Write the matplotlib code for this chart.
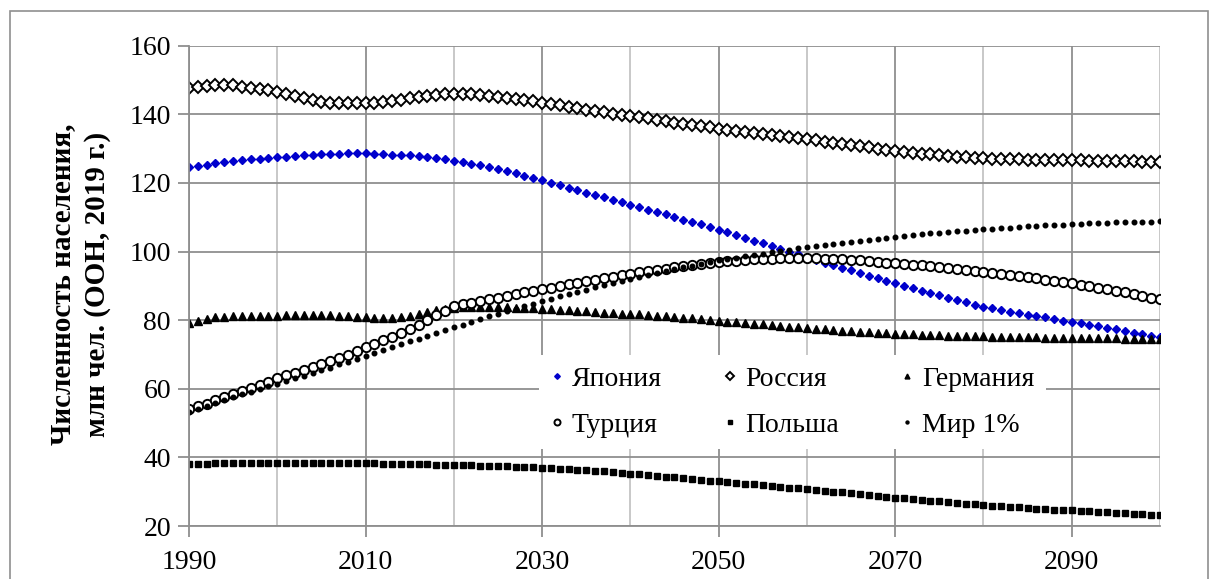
"""Population projections (UN WPP 2019): Japan, Russia, Germany, Turkey, Poland, 1% of world."""

import matplotlib

matplotlib.use("Agg")
import matplotlib.pyplot as plt
from matplotlib.patches import Rectangle
from matplotlib.ticker import FixedLocator, MultipleLocator
import numpy as np

plt.rcParams["font.family"] = ["Liberation Serif", "DejaVu Serif"]

years = np.arange(1990, 2101)

japan = [
    124.5, 124.9, 125.3, 125.7, 126.0, 126.4, 126.7, 126.9, 127.1, 127.3,
    127.5, 127.7, 127.9, 128.0, 128.2, 128.3, 128.4, 128.5, 128.6, 128.6,
    128.6, 128.5, 128.4, 128.2, 128.1, 128.0, 127.8, 127.5, 127.2, 126.9,
    126.5, 126.0, 125.6, 125.1, 124.6, 124.0, 123.4, 122.8, 122.1, 121.4,
    120.8, 120.1, 119.4, 118.6, 117.9, 117.2, 116.5, 115.8, 115.0, 114.3,
    113.6, 112.9, 112.2, 111.5, 110.8, 110.1, 109.3, 108.6, 107.9, 107.1,
    106.4, 105.6, 104.8, 104.0, 103.2, 102.4, 101.6, 100.8, 100.0, 99.2,
    98.4, 97.6, 96.8, 96.0, 95.2, 94.5, 93.7, 93.0, 92.2, 91.5,
    90.8, 90.1, 89.3, 88.6, 87.9, 87.2, 86.5, 85.8, 85.2, 84.5,
    83.9, 83.4, 83.0, 82.5, 82.1, 81.6, 81.2, 80.8, 80.3, 79.9,
    79.5, 79.1, 78.6, 78.2, 77.7, 77.3, 76.8, 76.4, 75.9, 75.5, 75.0,
]
russia = [
    147.6, 148.0, 148.3, 148.5, 148.5, 148.4, 148.1, 147.8, 147.4, 147.0,
    146.5, 145.9, 145.3, 144.7, 144.1, 143.7, 143.4, 143.2, 143.2, 143.2,
    143.3, 143.4, 143.6, 143.9, 144.3, 144.7, 145.1, 145.4, 145.6, 145.8,
    145.9, 145.9, 145.8, 145.6, 145.4, 145.1, 144.8, 144.5, 144.1, 143.8,
    143.4, 143.0, 142.6, 142.2, 141.8, 141.4, 141.0, 140.6, 140.2, 139.9,
    139.5, 139.1, 138.8, 138.4, 138.0, 137.6, 137.3, 136.9, 136.5, 136.2,
    135.8, 135.5, 135.2, 134.9, 134.6, 134.3, 133.9, 133.6, 133.3, 133.0,
    132.7, 132.4, 132.0, 131.7, 131.4, 131.0, 130.7, 130.4, 130.0, 129.7,
    129.4, 129.1, 128.8, 128.5, 128.3, 128.1, 127.9, 127.7, 127.5, 127.4,
    127.2, 127.1, 127.0, 126.9, 126.9, 126.8, 126.8, 126.7, 126.7, 126.6,
    126.6, 126.6, 126.5, 126.5, 126.4, 126.4, 126.3, 126.3, 126.2, 126.2, 126.1,
]
germany = [
    79.1, 79.7, 80.3, 80.8, 81.0, 81.1, 81.2, 81.3, 81.3, 81.3,
    81.3, 81.4, 81.5, 81.5, 81.5, 81.5, 81.4, 81.3, 81.1, 80.9,
    80.8, 80.6, 80.5, 80.6, 80.9, 81.3, 81.8, 82.4, 82.9, 83.3,
    83.6, 83.7, 83.8, 83.8, 83.8, 83.7, 83.7, 83.6, 83.5, 83.4,
    83.3, 83.2, 83.0, 82.9, 82.7, 82.6, 82.4, 82.2, 82.0, 81.9,
    81.8, 81.7, 81.5, 81.3, 81.1, 80.9, 80.7, 80.5, 80.3, 80.1,
    79.9, 79.6, 79.4, 79.2, 79.0, 78.8, 78.5, 78.3, 78.1, 77.9,
    77.7, 77.5, 77.3, 77.1, 76.9, 76.8, 76.6, 76.5, 76.3, 76.2,
    76.1, 76.0, 75.9, 75.8, 75.7, 75.6, 75.5, 75.5, 75.4, 75.3,
    75.3, 75.2, 75.2, 75.1, 75.1, 75.0, 75.0, 74.9, 74.9, 74.9,
    74.8, 74.8, 74.8, 74.7, 74.7, 74.7, 74.6, 74.6, 74.6, 74.5, 74.5,
]
turkey = [
    54.1, 54.9, 55.7, 56.6, 57.5, 58.4, 59.3, 60.2, 61.1, 62.1,
    63.0, 63.9, 64.7, 65.5, 66.3, 67.1, 68.0, 68.9, 69.9, 71.0,
    72.1, 73.1, 74.1, 75.2, 76.3, 77.4, 78.7, 80.0, 81.4, 82.8,
    84.1, 84.6, 85.1, 85.6, 86.1, 86.6, 87.1, 87.6, 88.1, 88.6,
    89.0, 89.5, 90.0, 90.5, 90.9, 91.4, 91.8, 92.3, 92.7, 93.1,
    93.5, 93.9, 94.3, 94.7, 95.0, 95.4, 95.7, 96.0, 96.3, 96.6,
    96.9, 97.1, 97.3, 97.5, 97.7, 97.8, 97.9, 98.0, 98.0, 98.0,
    98.0, 98.0, 97.9, 97.8, 97.7, 97.6, 97.4, 97.2, 97.0, 96.8,
    96.6, 96.4, 96.2, 96.0, 95.7, 95.5, 95.2, 94.9, 94.6, 94.4,
    94.1, 93.8, 93.5, 93.2, 92.9, 92.5, 92.2, 91.8, 91.5, 91.1,
    90.7, 90.3, 89.9, 89.5, 89.0, 88.6, 88.1, 87.6, 87.1, 86.6, 86.1,
]
poland = [
    38.0, 38.1, 38.2, 38.3, 38.4, 38.5, 38.5, 38.5, 38.5, 38.5,
    38.5, 38.5, 38.5, 38.5, 38.4, 38.4, 38.4, 38.4, 38.4, 38.4,
    38.3, 38.3, 38.2, 38.2, 38.1, 38.1, 38.0, 38.0, 37.9, 37.9,
    37.8, 37.8, 37.7, 37.6, 37.6, 37.5, 37.4, 37.3, 37.2, 37.1,
    37.0, 36.9, 36.7, 36.6, 36.4, 36.3, 36.1, 35.9, 35.7, 35.5,
    35.3, 35.1, 34.9, 34.7, 34.4, 34.2, 33.9, 33.7, 33.5, 33.2,
    33.0, 32.8, 32.6, 32.3, 32.1, 31.9, 31.7, 31.4, 31.2, 31.0,
    30.8, 30.5, 30.3, 30.0, 29.8, 29.5, 29.3, 29.0, 28.8, 28.5,
    28.3, 28.1, 27.8, 27.6, 27.4, 27.2, 27.0, 26.7, 26.5, 26.3,
    26.1, 25.9, 25.7, 25.6, 25.4, 25.2, 25.1, 24.9, 24.8, 24.7,
    24.6, 24.4, 24.3, 24.1, 24.0, 23.8, 23.7, 23.5, 23.4, 23.2, 23.1,
]
world_1pct = [
    53.3, 54.2, 55.1, 55.9, 56.8, 57.6, 58.4, 59.2, 60.0, 60.8,
    61.4, 62.2, 63.0, 63.8, 64.6, 65.4, 66.2, 67.1, 67.9, 68.7,
    69.6, 70.4, 71.3, 72.1, 73.0, 73.8, 74.6, 75.5, 76.3, 77.1,
    77.9, 78.7, 79.5, 80.3, 81.1, 81.8, 82.6, 83.3, 84.0, 84.8,
    85.5, 86.2, 86.9, 87.6, 88.3, 88.9, 89.6, 90.2, 90.8, 91.4,
    92.0, 92.6, 93.2, 93.8, 94.3, 94.9, 95.4, 95.9, 96.4, 96.9,
    97.4, 97.8, 98.2, 98.6, 99.0, 99.4, 99.8, 100.2, 100.5, 100.9,
    101.2, 101.6, 101.9, 102.2, 102.5, 102.8, 103.1, 103.4, 103.7, 104.0,
    104.3, 104.5, 104.8, 105.0, 105.3, 105.5, 105.7, 105.9, 106.1, 106.3,
    106.5, 106.7, 106.9, 107.0, 107.2, 107.3, 107.5, 107.6, 107.7, 107.8,
    108.0, 108.1, 108.2, 108.3, 108.4, 108.5, 108.5, 108.6, 108.7, 108.7, 108.8,
]

major_years = [1990, 2010, 2030, 2050, 2070, 2090]
minor_years = [2000, 2020, 2040, 2060, 2080, 2100]

GRID = "#8f8f8f"
GRID_MINOR = "#c4c4c4"
BLUE = "#0000CC"

W, H = 1219, 579
fig = plt.figure(figsize=(W / 100, H / 100), dpi=100)
ax = fig.add_axes([189 / W, 1 - 526 / H, (1160 - 189) / W, (526 - 45.7) / H])

# series in Excel order (legend is filled row by row there)
h_jp, = ax.plot(years, japan, ls="none", marker="D", ms=4.4, color=BLUE, mec=BLUE, label="Япония")
h_ru, = ax.plot(years, russia, ls="none", marker="D", ms=6.1, mfc="white", mec="black", mew=1.4, label="Россия")
h_de, = ax.plot(years, germany, ls="none", marker="^", ms=5.4, color="black", label="Германия")
h_tr, = ax.plot(years, turkey, ls="none", marker="o", ms=6.7, mfc="white", mec="black", mew=1.4, label="Турция")
h_pl, = ax.plot(years, poland, ls="none", marker="s", ms=3.8, color="black", label="Польша")
h_w, = ax.plot(years, world_1pct, ls="none", marker="o", ms=3.3, color="black", label="Мир 1%")

ax.set_xlim(1990, 2100)
ax.set_ylim(20, 160)
ax.xaxis.set_major_locator(FixedLocator(major_years))
ax.xaxis.set_minor_locator(FixedLocator(minor_years))
ax.yaxis.set_major_locator(MultipleLocator(20))
ax.grid(True, which="major", axis="both", color=GRID, lw=1.3)
ax.grid(True, which="minor", axis="x", color=GRID_MINOR, lw=1.3)
ax.set_axisbelow(True)

for side in ("top", "right"):
    ax.spines[side].set_visible(False)
for side in ("left", "bottom"):
    ax.spines[side].set_color(GRID)
    ax.spines[side].set_linewidth(1.3)

ax.tick_params(axis="both", which="major", direction="out", length=8, width=1.3,
               color=GRID, labelsize=20, pad=5)
ax.tick_params(axis="x", which="minor", length=0)
ax.tick_params(axis="x", which="major", pad=9)

fig.text(80 / W, 1 - 284 / H, "Численность населения,\nмлн чел. (ООН, 2019 г.)",
         rotation=90, ha="center", va="center", multialignment="center",
         fontsize=21, fontweight="bold", linespacing=1.4)

handles = [h_jp, h_tr, h_ru, h_pl, h_de, h_w]
leg = ax.legend(handles=handles, labels=[h.get_label() for h in handles],
                ncol=3, loc="upper left", bbox_to_anchor=(0.36, 0.356),
                fontsize=20, frameon=True, fancybox=False, framealpha=1,
                facecolor="white", edgecolor="none", markerscale=0.65,
                handlelength=0.5, handletextpad=0.3, columnspacing=2.2,
                labelspacing=0.75, borderpad=0.4, borderaxespad=0)

fig.patches.append(Rectangle((10 / W, -0.05), (1208 - 10) / W, 1.05 - 11 / H,
                             transform=fig.transFigure, fill=False,
                             edgecolor=GRID, lw=1.2))

fig.savefig("out.png", dpi=100)
